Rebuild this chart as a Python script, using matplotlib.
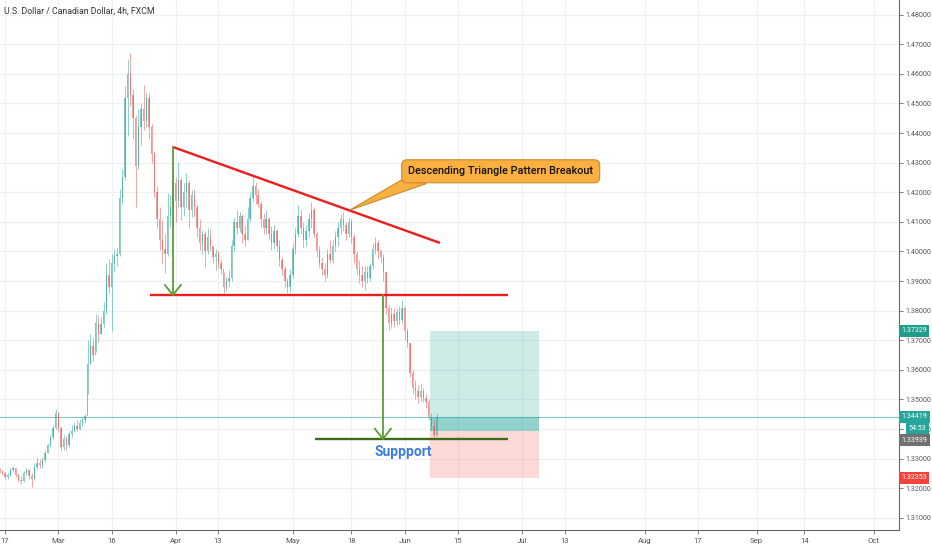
import matplotlib
matplotlib.use("Agg")
import matplotlib.pyplot as plt
import matplotlib.transforms as mtransforms
from matplotlib import font_manager
from matplotlib.patches import Rectangle, Polygon
import numpy as np

# ---------------- data ----------------
first_open = 1.3262
closes = [
    1.3258, 1.3250, 1.3238, 1.3245, 1.3262, 1.3268, 1.3245, 1.3228, 1.3225, 1.3250,
    1.3262, 1.3240, 1.3232, 1.3272, 1.3285, 1.3278, 1.3295, 1.3320, 1.3345, 1.3372,
    1.3405, 1.3455, 1.3405, 1.3340, 1.3365, 1.3345, 1.3385, 1.3395, 1.3410, 1.3400,
    1.3420, 1.3430, 1.3445, 1.3620, 1.3680, 1.3650, 1.3760, 1.3720, 1.3755, 1.3800,
    1.3920, 1.3880, 1.3960, 1.3985, 1.3990, 1.4180, 1.4250, 1.4520, 1.4600, 1.4530,
    1.4450, 1.4290, 1.4420, 1.4480, 1.4440, 1.4520, 1.4420, 1.4330, 1.4200, 1.4110,
    1.4040, 1.4010, 1.3990, 1.4120, 1.4150, 1.4230, 1.4170, 1.4240, 1.4150, 1.4200,
    1.4230, 1.4140, 1.4190, 1.4150, 1.4080, 1.4030, 1.4060, 1.4000, 1.4050, 1.4020,
    1.3980, 1.3990, 1.3960, 1.3940, 1.3880, 1.3900, 1.3910, 1.4020, 1.4100, 1.4080,
    1.4120, 1.4060, 1.4040, 1.4110, 1.4180, 1.4220, 1.4190, 1.4160, 1.4110, 1.4080,
    1.4110, 1.4060, 1.4030, 1.4070, 1.4020, 1.3970, 1.3940, 1.3900, 1.3880, 1.3920,
    1.4010, 1.4060, 1.4120, 1.4080, 1.4040, 1.4070, 1.4110, 1.4140, 1.4060, 1.4000,
    1.3960, 1.3940, 1.3920, 1.3990, 1.3970, 1.4020, 1.4050, 1.4080, 1.4110, 1.4090,
    1.4060, 1.4100, 1.4050, 1.3990, 1.3940, 1.3920, 1.3900, 1.3930, 1.3910, 1.3950,
    1.4010, 1.4030, 1.4000, 1.3980, 1.3930, 1.3810, 1.3760, 1.3790, 1.3765, 1.3795,
    1.3770, 1.3810, 1.3730, 1.3690, 1.3590, 1.3540, 1.3530, 1.3510, 1.3530, 1.3505,
    1.3490, 1.3440, 1.3410, 1.3380, 1.3442,
]
highs = [
    1.3268, 1.3262, 1.3255, 1.3252, 1.3270, 1.3276, 1.3270, 1.3250, 1.3240, 1.3258,
    1.3268, 1.3265, 1.3250, 1.3285, 1.3305, 1.3300, 1.3305, 1.3330, 1.3352, 1.3380,
    1.3415, 1.3468, 1.3458, 1.3410, 1.3380, 1.3375, 1.3395, 1.3415, 1.3425, 1.3430,
    1.3435, 1.3442, 1.3450, 1.3700, 1.3720, 1.3712, 1.3790, 1.3785, 1.3780, 1.3830,
    1.3960, 1.3975, 1.3990, 1.4010, 1.4015, 1.4210, 1.4280, 1.4560, 1.4650, 1.4670,
    1.4550, 1.4460, 1.4480, 1.4500, 1.4563, 1.4540, 1.4535, 1.4430, 1.4340, 1.4220,
    1.4150, 1.4107, 1.4060, 1.4197, 1.4190, 1.4275, 1.4250, 1.4302, 1.4250, 1.4230,
    1.4265, 1.4240, 1.4207, 1.4210, 1.4160, 1.4110, 1.4073, 1.4070, 1.4080, 1.4075,
    1.4015, 1.4010, 1.4000, 1.3975, 1.3930, 1.3915, 1.3937, 1.4040, 1.4117, 1.4140,
    1.4135, 1.4125, 1.4090, 1.4150, 1.4200, 1.4252, 1.4235, 1.4210, 1.4170, 1.4130,
    1.4140, 1.4117, 1.4085, 1.4090, 1.4075, 1.4040, 1.3980, 1.3950, 1.3910, 1.3940,
    1.4030, 1.4080, 1.4157, 1.4140, 1.4100, 1.4090, 1.4130, 1.4167, 1.4150, 1.4070,
    1.4020, 1.3980, 1.3960, 1.4010, 1.4040, 1.4040, 1.4070, 1.4100, 1.4125, 1.4133,
    1.4100, 1.4116, 1.4110, 1.4060, 1.4000, 1.3970, 1.3950, 1.3950, 1.3950, 1.3960,
    1.4028, 1.4049, 1.4040, 1.4010, 1.3990, 1.3930, 1.3820, 1.3812, 1.3810, 1.3810,
    1.3815, 1.3836, 1.3815, 1.3740, 1.3690, 1.3600, 1.3566, 1.3550, 1.3555, 1.3540,
    1.3520, 1.3500, 1.3454, 1.3430, 1.3454,
]
lows = [
    1.3250, 1.3244, 1.3232, 1.3230, 1.3240, 1.3255, 1.3238, 1.3220, 1.3215, 1.3220,
    1.3245, 1.3232, 1.3204, 1.3228, 1.3265, 1.3270, 1.3270, 1.3290, 1.3318, 1.3340,
    1.3368, 1.3400, 1.3395, 1.3325, 1.3328, 1.3330, 1.3340, 1.3372, 1.3390, 1.3392,
    1.3398, 1.3410, 1.3420, 1.3520, 1.3620, 1.3630, 1.3660, 1.3695, 1.3720, 1.3745,
    1.3790, 1.3860, 1.3730, 1.3930, 1.3950, 1.3985, 1.4160, 1.4240, 1.4390, 1.4490,
    1.4380, 1.4150, 1.4280, 1.4360, 1.4410, 1.4420, 1.4380, 1.4300, 1.4184, 1.4080,
    1.4005, 1.3960, 1.3927, 1.3985, 1.4083, 1.4080, 1.4100, 1.4150, 1.4107, 1.4120,
    1.4150, 1.4080, 1.4117, 1.4117, 1.4050, 1.4005, 1.3990, 1.3948, 1.3990, 1.4005,
    1.3960, 1.3937, 1.3945, 1.3925, 1.3860, 1.3865, 1.3880, 1.3900, 1.4000, 1.4060,
    1.4065, 1.4030, 1.4015, 1.4040, 1.4100, 1.4170, 1.4160, 1.4150, 1.4080, 1.4060,
    1.4060, 1.4040, 1.4005, 1.4010, 1.4000, 1.3950, 1.3920, 1.3880, 1.3860, 1.3862,
    1.3910, 1.3990, 1.4050, 1.4060, 1.4015, 1.4020, 1.4050, 1.4080, 1.4050, 1.3980,
    1.3948, 1.3920, 1.3900, 1.3910, 1.3960, 1.3960, 1.4000, 1.4020, 1.4060, 1.4070,
    1.4040, 1.4050, 1.4030, 1.3960, 1.3920, 1.3895, 1.3880, 1.3870, 1.3895, 1.3900,
    1.3940, 1.3990, 1.3975, 1.3960, 1.3900, 1.3790, 1.3735, 1.3740, 1.3745, 1.3750,
    1.3755, 1.3760, 1.3700, 1.3677, 1.3576, 1.3520, 1.3500, 1.3488, 1.3495, 1.3490,
    1.3470, 1.3430, 1.3397, 1.3363, 1.3375,
]

# x axis: trading-day index (0 = Feb 17), bars every half trading day
bar_start_day = -1.0
bar_step = 0.5
tick_days = [0, 10, 20, 32, 40, 54, 65, 75, 85, 97, 105, 120, 130, 141, 150, 163]
tick_labels = ["17", "Mar", "16", "Apr", "13", "May", "18", "Jun", "15", "Jul",
               "13", "Aug", "17", "Sep", "14", "Oct"]
price_ticks = [1.31, 1.32, 1.33, 1.34, 1.35, 1.36, 1.37, 1.38, 1.39, 1.40,
               1.41, 1.42, 1.43, 1.44, 1.45, 1.46, 1.47, 1.48]

# drawings (trading-day, price)
triangle_top = [(31.5, 1.4353), (81.6, 1.4029)]
triangle_base = [(27.2, 1.3853), (94.4, 1.3853)]
support_line = [(58.2, 1.3367), (94.4, 1.3367)]
arrow1 = (31.5, 1.4353, 1.3853)
arrow2 = (70.9, 1.3853, 1.3367)
pos_x = (79.7, 100.2)
target_price = 1.37329
entry_price = 1.33939
stop_price = 1.32353
last_price = 1.34419
countdown_price = 1.34035
entry_tag_price = 1.33630
callout_tip = (64.7, 1.4140)
callout_center = (93.0, 1.4271)
support_text_pos = (74.7, 1.3322)

# ---------------- fonts ----------------
names = {f.name for f in font_manager.fontManager.ttflist}
NARROW = "Liberation Sans Narrow" if "Liberation Sans Narrow" in names else "Roboto"
plt.rcParams["font.family"] = [NARROW, "DejaVu Sans"]

# ---------------- figure ----------------
W, H = 932, 550
fig = plt.figure(figsize=(W / 100, H / 100), dpi=100)
fig.patch.set_facecolor("white")
ax = fig.add_axes([0, 20 / H, 899 / W, 530 / H])
ax.set_facecolor("white")
ax.set_xlim(-0.938, 167.73)
ax.set_ylim(1.305912, 1.484966)

# grid
for d in tick_days:
    ax.axvline(d, color="#eef1f3", lw=0.9, zorder=0)
for p in price_ticks:
    ax.axhline(p, color="#eef1f3", lw=0.9, zorder=0)

# position tool boxes
bx0, bx1 = pos_x
ax.add_patch(Rectangle((bx0, entry_price), bx1 - bx0, target_price - entry_price,
                       fc="#26a69a", alpha=0.22, ec="none", zorder=1))
ax.add_patch(Rectangle((bx0, entry_price), bx1 - bx0, last_price - entry_price,
                       fc="#26a69a", alpha=0.35, ec="none", zorder=1))
ax.add_patch(Rectangle((bx0, stop_price), bx1 - bx0, entry_price - stop_price,
                       fc="#f44336", alpha=0.2, ec="none", zorder=1))

# last price line
ax.axhline(last_price, color="#26a69a", lw=0.8, alpha=0.6, zorder=1.5)

# candles
c = np.array(closes)
h = np.array(highs)
l = np.array(lows)
o = np.concatenate([[first_open], c[:-1]])
x = bar_start_day + bar_step * np.arange(len(c))
up = c >= o
cols = np.where(up, "#26a69a", "#ef5350")
ax.vlines(x, l, h, colors=cols, lw=0.6, alpha=0.6, zorder=2)
body_bottom = np.minimum(o, c)
body_h = np.maximum(np.abs(c - o), 0.00015)
ax.bar(x, body_h, bottom=body_bottom, width=0.26, color=cols, alpha=0.6,
       linewidth=0, zorder=2)

# triangle lines
RED = "#ee1c1c"
ax.plot(*zip(*triangle_top), color=RED, lw=1.7, zorder=4, solid_capstyle="butt")
ax.plot(*zip(*triangle_base), color=RED, lw=1.7, zorder=4, solid_capstyle="butt")
ax.plot(*zip(*support_line), color="#3f6b18", lw=1.7, zorder=4, solid_capstyle="butt")

# green arrows
GREEN = "#5a9e32"
head_w = 1.5
head_h = 0.0034
for ax_x, y0, y1 in (arrow1, arrow2):
    ax.plot([ax_x, ax_x], [y0, y1], color=GREEN, lw=1.3, zorder=4)
    ax.plot([ax_x - head_w, ax_x, ax_x + head_w], [y1 + head_h, y1, y1 + head_h],
            color=GREEN, lw=1.3, zorder=4)

# callout
wedge = Polygon([callout_tip, (75.4, 1.4252), (79.0, 1.4229)], closed=True,
                fc="#f9b040", ec="#c98a2a", lw=0.8, zorder=5)
ax.add_patch(wedge)
ax.text(callout_center[0], callout_center[1], "Descending Triangle Pattern Breakout",
        ha="center", va="center", fontsize=7.8, color="#111111", fontweight="medium",
        bbox=dict(boxstyle="round,pad=0.6,rounding_size=0.5", fc="#f9b040",
                  ec="#c98a2a", lw=0.8), zorder=6)

# support label
ax.text(support_text_pos[0], support_text_pos[1], "Suppport", ha="center", va="center",
        fontsize=10, fontweight="bold", color="#3b7ddd", zorder=6,
        family=["Roboto", "DejaVu Sans"])

# axes styling
for s in ("top", "left"):
    ax.spines[s].set_visible(False)
ax.spines["right"].set_color("#666666")
ax.spines["bottom"].set_color("#666666")
ax.spines["right"].set_linewidth(0.8)
ax.spines["bottom"].set_linewidth(0.8)
ax.yaxis.tick_right()
ax.set_yticks(price_ticks)
ax.set_yticklabels([f"{p:.5f}" for p in price_ticks])
ax.set_xticks(tick_days)
ax.set_xticklabels(tick_labels)
ax.tick_params(axis="y", direction="out", length=3, width=0.6, colors="#666666",
               labelsize=5.1, labelcolor="#555555", pad=1.5)
ax.tick_params(axis="x", direction="out", length=3, width=0.6, colors="#666666",
               labelsize=5.6, labelcolor="#555555", pad=3)

# price tags on the scale
trans = mtransforms.blended_transform_factory(ax.transAxes, ax.transData)
def tag(price, label, fc, x0=1.0025):
    ax.text(x0, price, label, transform=trans, ha="left", va="center", fontsize=5.1,
            color="white", clip_on=False, zorder=10,
            bbox=dict(boxstyle="square,pad=0.35", fc=fc, ec="none"))

tag(target_price, "1.37329", "#1e9e8a")
tag(last_price, "1.34419", "#26a69a")
tag(countdown_price, "54:53", "#26a69a", x0=1.011)
tag(entry_tag_price, "1.33939", "#707070")
tag(stop_price, "1.32353", "#f2443c")

# title
fig.text(4 / W, 1 - 11 / H, "U.S. Dollar / Canadian Dollar, 4h, FXCM", fontsize=6.3,
         color="#333333", ha="left", va="center")

fig.savefig("out.png", dpi=100, facecolor="white")
